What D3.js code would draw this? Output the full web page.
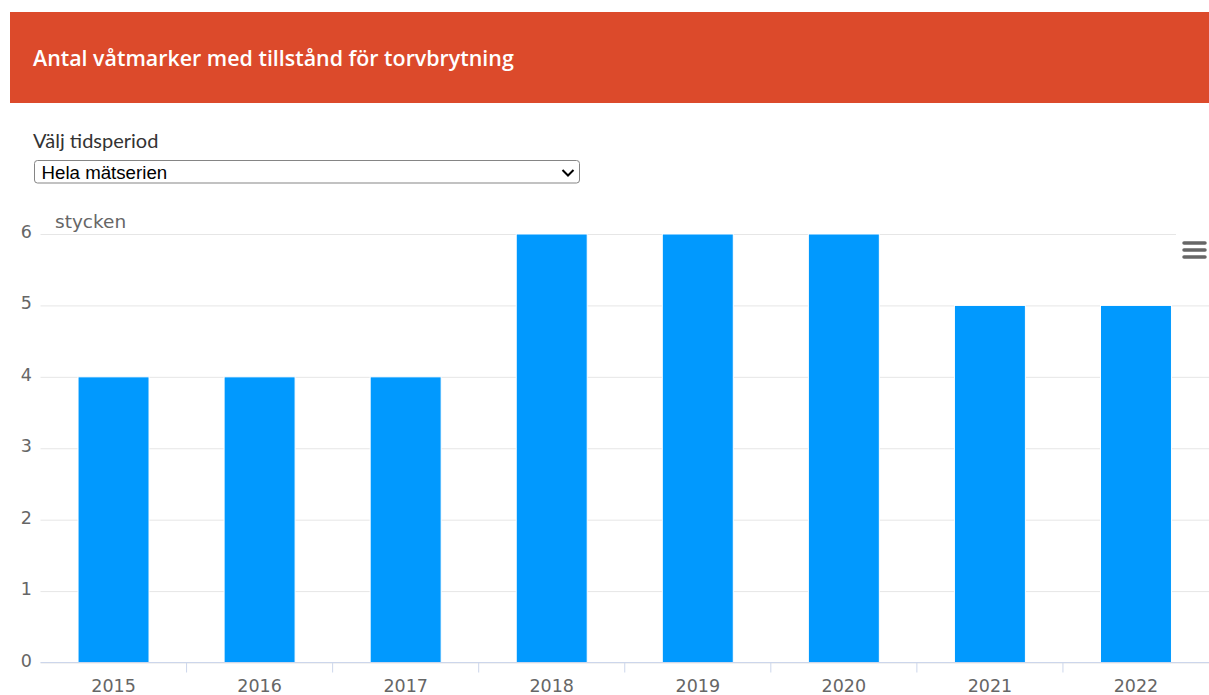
<!DOCTYPE html>
<html>
<head>
	<title>Antal våtmarker</title>
	<meta charset='utf-8'>
	<style>
		body {
			margin: 0;
			background: #fff;
		}

		.grid line {
			stroke: #e6e6e6;
		}

		.bar {
			fill: #0199fe;
			stroke: #fff;
			stroke-width: 1px;
		}
	</style>
</head>
<body>

<script src='https://d3js.org/d3.v7.min.js'></script>
<script>
	'use strict';

	const title = 'Antal våtmarker med tillstånd för torvbrytning';
	const unit = 'stycken';
	const years = ['2015', '2016', '2017', '2018', '2019', '2020', '2021', '2022'];
	const counts = [4, 4, 4, 6, 6, 6, 5, 5];
	const yTicks = [0, 1, 2, 3, 4, 5, 6];

	const W = 1209;
	const H = 695;
	const plot = {left: 40.5, right: 1209, top: 234, bottom: 662.5};

	const svg = d3.select('body').append('svg')
		.attr('width', W)
		.attr('height', H)
		.style('display', 'block');

	// шапка
	svg.append('rect')
		.attr('x', 10).attr('y', 12)
		.attr('width', W - 10).attr('height', 91)
		.attr('fill', '#dc4a2b');

	svg.append('text')
		.attr('x', 33).attr('y', 66)
		.attr('fill', '#fff')
		.style('font', '600 21.4px "Open Sans"')
		.text(title);

	// выбор периода
	svg.append('text')
		.attr('x', 33).attr('y', 148)
		.attr('fill', '#333')
		.style('font', '400 20px Lato')
		.text('Välj tidsperiod');

	svg.append('rect')
		.attr('x', 34.5).attr('y', 160.5)
		.attr('width', 545).attr('height', 22.5)
		.attr('rx', 3)
		.attr('fill', '#fff')
		.attr('stroke', '#858585');

	svg.append('text')
		.attr('x', 41.5).attr('y', 178.5)
		.attr('fill', '#000')
		.style('font', '400 18.7px "Liberation Sans"')
		.text('Hela mätserien');

	svg.append('path')
		.attr('d', 'M562.5,170 L568,175.5 L573.5,170')
		.attr('fill', 'none')
		.attr('stroke', '#000')
		.attr('stroke-width', 2);

	// шкалы
	const xScale = d3.scaleBand()
		.domain(years)
		.range([plot.left, plot.right])
		.paddingInner(0.514)
		.paddingOuter(0.257);

	const yScale = d3.scaleLinear()
		.domain([0, d3.max(yTicks)])
		.range([plot.bottom, plot.top]);

	// сетка
	svg.append('g')
		.attr('class', 'grid')
		.attr('transform', 'translate(' + plot.left + ',0)')
		.call(d3.axisLeft(yScale)
			.tickValues(yTicks)
			.tickSize(-(plot.right - plot.left))
			.tickFormat(''))
		.call(g => g.select('.domain').remove());

	// подписи оси Y
	svg.append('g')
		.selectAll('text')
		.data(yTicks)
		.join('text')
		.attr('x', 32)
		.attr('y', d => yScale(d) + 4)
		.attr('text-anchor', 'end')
		.attr('fill', '#666')
		.style('font', '17.5px "DejaVu Sans"')
		.text(d => d);

	svg.append('text')
		.attr('x', 55).attr('y', 228)
		.attr('fill', '#666')
		.style('font', '18.5px "DejaVu Sans"')
		.text(unit);

	// столбцы
	svg.selectAll('.bar')
		.data(years)
		.join('rect')
		.attr('class', 'bar')
		.attr('x', d => xScale(d))
		.attr('y', (d, i) => yScale(counts[i]))
		.attr('width', xScale.bandwidth())
		.attr('height', (d, i) => yScale(0) - yScale(counts[i]));

	// ось X
	const step = xScale.step();
	svg.append('line')
		.attr('x1', plot.left).attr('x2', plot.right)
		.attr('y1', plot.bottom).attr('y2', plot.bottom)
		.attr('stroke', '#ccd6eb');

	svg.append('g')
		.selectAll('line')
		.data(years.slice(1))
		.join('line')
		.attr('x1', d => xScale(d) + xScale.bandwidth() / 2 - step / 2)
		.attr('x2', d => xScale(d) + xScale.bandwidth() / 2 - step / 2)
		.attr('y1', plot.bottom)
		.attr('y2', plot.bottom + 10)
		.attr('stroke', '#ccd6eb');

	svg.append('g')
		.selectAll('text')
		.data(years)
		.join('text')
		.attr('x', d => xScale(d) + xScale.bandwidth() / 2)
		.attr('y', 692)
		.attr('text-anchor', 'middle')
		.attr('fill', '#666')
		.style('font', '17.5px "DejaVu Sans"')
		.text(d => d);

	// кнопка меню
	svg.append('rect')
		.attr('x', 1176).attr('y', 228)
		.attr('width', 33).attr('height', 36)
		.attr('fill', '#fff');

	svg.append('g')
		.selectAll('line')
		.data([243, 250, 257])
		.join('line')
		.attr('x1', 1184).attr('x2', 1205)
		.attr('y1', d => d).attr('y2', d => d)
		.attr('stroke', '#666')
		.attr('stroke-width', 3.5)
		.attr('stroke-linecap', 'round');
</script>
</body>
</html>
